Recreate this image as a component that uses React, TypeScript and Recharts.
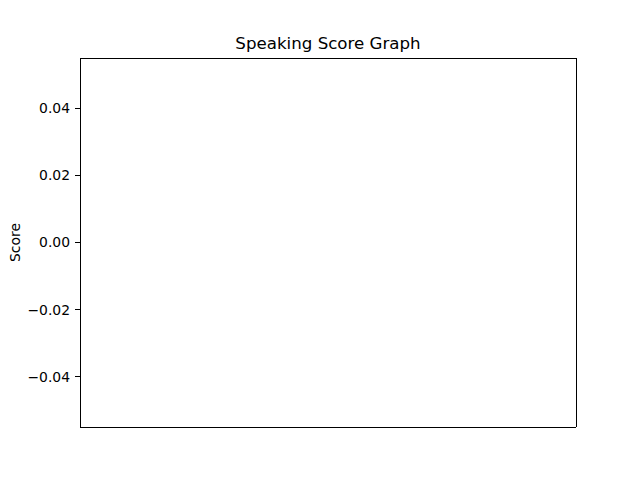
import { LineChart, Line, XAxis, YAxis } from "recharts";

// the reference plot holds no points at all
const sessions: number[] = [];
const scores: number[] = [];

const xDomain = [0, 1];
const yTicks = [-0.04, -0.02, 0, 0.02, 0.04];
const yDomain = [-0.055, 0.055];

const data = sessions.map((x, i) => ({ x, score: scores[i] }));

const FONT = "DejaVu Sans, sans-serif";
const frame = { stroke: "#000", strokeWidth: 1, shapeRendering: "crispEdges" };

const fmt = (v: number) => v.toFixed(2).replace("-", "\u2212");

export default function App() {
  return (
    <div style={{ position: "absolute", left: 0, top: 0, width: 640, height: 480, background: "#fff" }}>
      <LineChart
        width={640}
        height={480}
        data={data}
        margin={{ top: 48, right: 54, bottom: 43, left: 20 }}
      >
        <XAxis dataKey="x" xAxisId="bottom" type="number" domain={xDomain} orientation="bottom" height={10} tick={false} tickLine={false} axisLine={frame} />
        <XAxis dataKey="x" xAxisId="top" type="number" domain={xDomain} orientation="top" height={10} tick={false} tickLine={false} axisLine={frame} />
        <YAxis
          yAxisId="left"
          width={60}
          type="number"
          domain={yDomain}
          ticks={yTicks}
          tickFormatter={fmt}
          tickSize={5}
          tickMargin={5}
          tickLine={frame}
          axisLine={frame}
          tick={{ fill: "#000", fontSize: 13.9, fontFamily: FONT }}
          allowDataOverflow
        />
        <YAxis yAxisId="right" orientation="right" width={10} type="number" domain={yDomain} tick={false} tickLine={false} axisLine={frame} />
        <Line xAxisId="bottom" yAxisId="left" dataKey="score" stroke="#1f77b4" dot={false} isAnimationActive={false} />
        <Line xAxisId="top" yAxisId="right" dataKey="score" stroke="#1f77b4" dot={false} isAnimationActive={false} />
      </LineChart>
      <svg width={640} height={480} style={{ position: "absolute", left: 0, top: 0, pointerEvents: "none" }}>
        <text x={328} y={49} textAnchor="middle" fontFamily={FONT} fontSize={16.67} fill="#000">
          Speaking Score Graph
        </text>
        <text x={20} y={242.5} textAnchor="middle" fontFamily={FONT} fontSize={13.9} fill="#000" transform="rotate(-90 20 242.5)">
          Score
        </text>
      </svg>
    </div>
  );
}
